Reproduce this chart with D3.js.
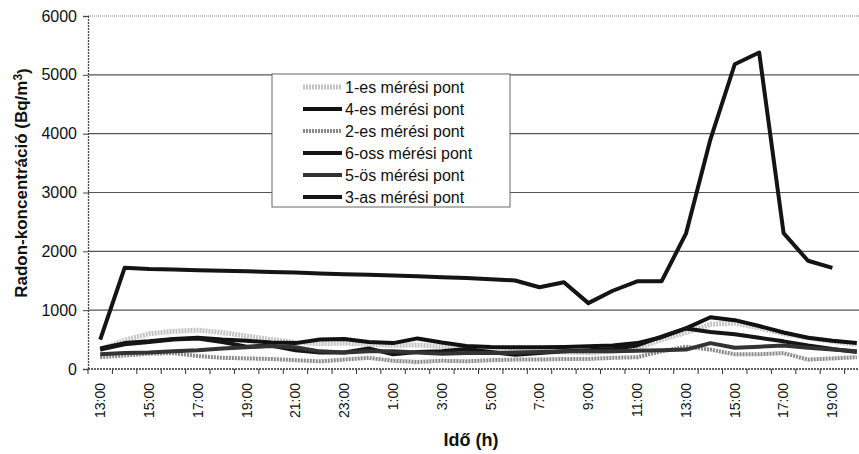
<!DOCTYPE html>
<html>
<head>
<meta charset="utf-8">
<script src="https://cdn.jsdelivr.net/npm/d3@7"></script>
<style>
  body { margin: 0; background: #fff; }
  text { font-family: "Liberation Sans", Arial, sans-serif; fill: #111; }
</style>
</head>
<body>
<div id="chart"></div>
<script>
// categories (hourly readings, 13:00 first day .. 20:00 next day)
var hours = ["13:00","14:00","15:00","16:00","17:00","18:00","19:00","20:00","21:00","22:00",
  "23:00","0:00","1:00","2:00","3:00","4:00","5:00","6:00","7:00","8:00","9:00","10:00",
  "11:00","12:00","13:00","14:00","15:00","16:00","17:00","18:00","19:00","20:00"];

var yTicks = [0, 1000, 2000, 3000, 4000, 5000, 6000];

// series values (Bq/m3)
var pont1 = [330, 490, 600, 640, 660, 620, 560, 500, 450, 430, 440, 420, 400, 410, 380, 330,
  310, 300, 300, 290, 280, 300, 350, 500, 620, 760, 780, 700, 600, 530, 470, 420];
var pont4 = [350, 440, 470, 510, 530, 500, 480, 450, 440, 500, 510, 460, 440, 520, 450, 390,
  375, 370, 370, 375, 385, 400, 440, 540, 690, 880, 830, 730, 620, 530, 480, 440];
var pont2 = [200, 230, 260, 270, 220, 190, 180, 170, 150, 130, 160, 190, 140, 120, 140, 130,
  150, 160, 160, 170, 170, 190, 200, 300, 380, 330, 250, 250, 270, 160, 180, 200];
var pont6 = [330, 420, 460, 500, 520, 460, 380, 400, 320, 280, 280, 350, 250, 290, 300, 340,
  290, 240, 270, 300, 320, 340, 400, 550, 690, 630, 590, 530, 470, 400, 340, 290];
var pont5 = [250, 270, 280, 300, 320, 350, 370, 390, 370, 300, 280, 300, 300, 280, 260, 270,
  270, 280, 290, 300, 300, 300, 310, 320, 330, 440, 360, 380, 400, 360, 330, 300];
var pont3 = [500, 1720, 1700, 1690, 1680, 1670, 1660, 1650, 1640, 1625, 1610, 1600, 1590, 1575,
  1560, 1545, 1525, 1505, 1390, 1475, 1120, 1330, 1490, 1490, 2300, 3900, 5180, 5380, 2310,
  1840, 1720, null];

var series = [
  { name: "1-es mérési pont", values: pont1, color: "#c4c4c4", width: 5, dash: "2,1" },
  { name: "4-es mérési pont", values: pont4, color: "#111", width: 4 },
  { name: "2-es mérési pont", values: pont2, color: "#8a8a8a", width: 4, dash: "2,1" },
  { name: "6-oss mérési pont", values: pont6, color: "#151515", width: 4 },
  { name: "5-ös mérési pont", values: pont5, color: "#333", width: 4 },
  { name: "3-as mérési pont", values: pont3, color: "#141414", width: 4 }
];

var svgWidth = 859;
var svgHeight = 454;

var margin = { top: 16, left: 88 };
var plotW = 781;   // plot runs a little past the right edge of the window
var plotH = 353;

var svg = d3.select("#chart")
  .append("svg")
  .attr("width", svgWidth)
  .attr("height", svgHeight);

var g = svg.append("g")
  .attr("transform", `translate(${margin.left}, ${margin.top})`);

var x = d3.scaleBand()
  .domain(d3.range(hours.length))
  .range([0, plotW])
  .padding(0);

var y = d3.scaleLinear()
  .domain([0, 6000])
  .range([plotH, 0]);

// gridlines
g.append("g")
  .selectAll("line")
  .data(yTicks.filter(d => d > 0))
  .enter().append("line")
  .attr("x1", 0)
  .attr("x2", plotW)
  .attr("y1", d => y(d))
  .attr("y2", d => y(d))
  .attr("stroke", d => d === 6000 ? "#777" : "#555")
  .attr("stroke-dasharray", d => d === 6000 ? "1,1" : null)
  .attr("stroke-width", 1.2);

// y axis
var leftAxis = d3.axisLeft(y).tickValues(yTicks).tickFormat(d3.format("d")).tickSize(5).tickPadding(6);
var yAxis = g.append("g").call(leftAxis);
yAxis.select(".domain").attr("stroke", "#444").attr("stroke-width", 1.3).attr("stroke-dasharray", "2,1");
yAxis.selectAll(".tick line").attr("stroke", "#444");
yAxis.selectAll("text").style("font-size", "16px").attr("fill", "#111");

// x axis: labels every second hour, ticks on category borders
var bottomAxis = d3.axisBottom(x)
  .tickValues(d3.range(0, hours.length, 2))
  .tickFormat(i => hours[i])
  .tickSize(0);
var xAxis = g.append("g")
  .attr("transform", `translate(0, ${plotH})`)
  .call(bottomAxis);
xAxis.select(".domain").remove();
xAxis.selectAll("text")
  .style("font-size", "14px")
  .attr("fill", "#111")
  .attr("transform", "rotate(-90)")
  .attr("text-anchor", "end")
  .attr("x", -14)
  .attr("y", 0)
  .attr("dy", "0.35em");

g.append("line")
  .attr("x1", 0).attr("x2", plotW)
  .attr("y1", plotH).attr("y2", plotH)
  .attr("stroke", "#333").attr("stroke-width", 1.5).attr("stroke-dasharray", "2,1");

g.append("g")
  .selectAll("line")
  .data(d3.range(hours.length + 1))
  .enter().append("line")
  .attr("x1", i => i * x.bandwidth())
  .attr("x2", i => i * x.bandwidth())
  .attr("y1", plotH)
  .attr("y2", plotH + 5)
  .attr("stroke", "#333");

// lines
var line = d3.line()
  .defined(d => d != null)
  .x((d, i) => x(i) + x.bandwidth() / 2)
  .y(d => y(d))
  .curve(d3.curveLinear);

g.append("g")
  .selectAll("path")
  .data(series)
  .enter().append("path")
  .attr("fill", "none")
  .attr("stroke", d => d.color)
  .attr("stroke-width", d => d.width)
  .attr("stroke-dasharray", d => d.dash || null)
  .attr("stroke-linejoin", "round")
  .attr("d", d => line(d.values));

// legend
var legend = svg.append("g").attr("transform", "translate(272, 74)");
legend.append("rect")
  .attr("width", 238)
  .attr("height", 133)
  .attr("fill", "#fff")
  .attr("stroke", "#666")
  .attr("stroke-width", 1);

var rows = legend.selectAll(".row")
  .data(series)
  .enter().append("g")
  .attr("class", "row")
  .attr("transform", (d, i) => `translate(0, ${13 + i * 22})`);

rows.append("line")
  .attr("x1", 31).attr("x2", 70)
  .attr("y1", 0).attr("y2", 0)
  .attr("stroke", d => d.color)
  .attr("stroke-width", d => d.width)
  .attr("stroke-dasharray", d => d.dash || null);

rows.append("text")
  .attr("x", 73)
  .attr("y", 0)
  .attr("dy", "0.35em")
  .style("font-size", "16px")
  .text(d => d.name);

// axis titles
var yTitle = svg.append("text")
  .attr("transform", "translate(27, 183) rotate(-90)")
  .attr("text-anchor", "middle")
  .style("font-size", "17px")
  .style("font-weight", "bold");
yTitle.append("tspan").text("Radon-koncentráció (Bq/m");
yTitle.append("tspan").attr("dy", "-0.45em").style("font-size", "12px").text("3");
yTitle.append("tspan").attr("dy", "0.45em").text(")");

svg.append("text")
  .attr("x", 471)
  .attr("y", 446)
  .attr("text-anchor", "middle")
  .style("font-size", "18px")
  .style("font-weight", "bold")
  .text("Idő (h)");
</script>
</body>
</html>
